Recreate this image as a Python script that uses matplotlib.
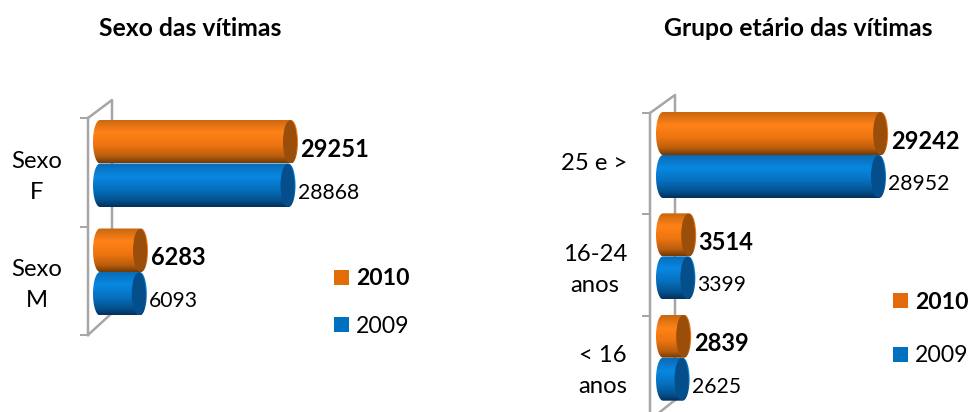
import numpy as np
import matplotlib
matplotlib.use('Agg')
import matplotlib.pyplot as plt
from matplotlib.colors import LinearSegmentedColormap
from matplotlib.lines import Line2D
from matplotlib.patches import Patch, PathPatch, Ellipse
from matplotlib.path import Path

plt.rcParams['font.family'] = ['Lato', 'DejaVu Sans']

# data
sexo_cats = ['Sexo\nF', 'Sexo\nM']
sexo_2010 = [29251, 6283]
sexo_2009 = [28868, 6093]

idade_cats = ['25 e >', '16-24\nanos', '< 16\nanos']
idade_2010 = [29242, 3514, 2839]
idade_2009 = [28952, 3399, 2625]

series_labels = ['2010', '2009']

W, H = 972, 412
GRAY = '#A6A6A6'
ORANGE = '#E36C0A'
BLUE = '#0070C0'
ORANGE_END = '#9A4E0A'
BLUE_END = '#044E8C'
orange_cmap = LinearSegmentedColormap.from_list('o', [(0, '#C9670F'), (0.3, '#FF8218'), (0.6, '#EE7410'), (0.85, '#B85C0C'), (1, '#6E3A08')])
blue_cmap = LinearSegmentedColormap.from_list('b', [(0, '#0A6AB4'), (0.3, '#0888E2'), (0.6, '#0670BE'), (0.85, '#04518E'), (1, '#02305A')])

fig = plt.figure(figsize=(W / 100, H / 100), dpi=100)
PX = 0.72  # one pixel in points


def px_line(xs, ys):
    fig.add_artist(Line2D([x / W for x in xs], [1 - y / H for y in ys], color=GRAY, lw=2.5 * PX,
                          transform=fig.transFigure, zorder=0))


def cylinder(ax, value, y_top, h, rx, cmap, end_color, rim):
    # body of the bar with rounded ends, filled with a vertical gradient
    t = np.linspace(0, np.pi, 40)
    yc = y_top + h / 2
    right = np.column_stack([value + rx * np.sin(t), yc - h / 2 * np.cos(t)])
    left = np.column_stack([-rx * np.sin(t), yc + h / 2 * np.cos(t)])
    pts = np.vstack([right, left, right[:1]])
    clip = PathPatch(Path(pts, closed=True), transform=ax.transData, fc='none', ec='none')
    grad = np.linspace(0, 1, 128).reshape(-1, 1)
    im = ax.imshow(grad, cmap=cmap, aspect='auto', origin='upper', interpolation='bilinear',
                   extent=(-rx, value + rx, y_top + h, y_top), zorder=3)
    im.set_clip_path(clip)
    im.set_clip_box(fig.bbox)
    ax.add_patch(Ellipse((value - rim, yc), 2 * rx, h * 0.98, fc=end_color, ec='none', zorder=4, clip_on=False))


def bar_chart(box, cats, v2010, v2009, scale, bar_px, top_px, wall_px, pad_px, title, title_x, legend_xy):
    x0, y0, x1, y1 = box
    ax = fig.add_axes([x0 / W, 1 - y1 / H, (x1 - x0) / W, (y1 - y0) / H])
    cat_px = (y1 - y0) / len(cats)
    h = bar_px / cat_px
    rx = 7 / scale
    for i in range(len(cats)):
        y_top = i + top_px / cat_px
        cylinder(ax, v2010[i], y_top, h, rx, orange_cmap, ORANGE_END, 1.0 / scale)
        cylinder(ax, v2009[i], y_top + h, h, rx, blue_cmap, BLUE_END, 1.0 / scale)
        ax.annotate(str(v2010[i]), (v2010[i], y_top + h / 2), xytext=(9.5 * PX, -7.5 * PX),
                    textcoords='offset points', va='center', ha='left', fontsize=17, fontweight='bold', color='black')
        ax.annotate(str(v2009[i]), (v2009[i], y_top + 1.5 * h), xytext=(9 * PX, -7.5 * PX),
                    textcoords='offset points', va='center', ha='left', fontsize=15.2, color='black')
    ax.set_xlim(0, (x1 - x0) / scale)
    ax.set_ylim(len(cats), 0)
    ax.patch.set_alpha(0)
    for s in ['top', 'right', 'bottom']:
        ax.spines[s].set_visible(False)
    ax.spines['left'].set_position(('outward', wall_px * PX))
    ax.spines['left'].set_color(GRAY)
    ax.spines['left'].set_linewidth(2.5 * PX)
    ax.set_xticks([])
    ax.set_yticks(range(len(cats) + 1))
    ax.set_yticklabels([])
    ax.tick_params(axis='y', which='major', length=8 * PX, width=2 * PX, color=GRAY)
    ax.set_yticks(np.arange(len(cats)) + 0.5 - 2.5 / cat_px, minor=True)
    ax.set_yticklabels(cats, minor=True, fontsize=17.2, linespacing=1.6, color='black')
    ax.tick_params(axis='y', which='minor', length=0, pad=pad_px * PX)
    for lab in ax.get_yticklabels(minor=True):
        lab.set_multialignment('center')
    fig.text(title_x / W, 1 - 28 / H, title, ha='center', va='center', fontsize=17.8, fontweight='bold', color='black')
    handles = [Patch(fc=ORANGE, ec='none'), Patch(fc=BLUE, ec='none')]
    leg = fig.legend(handles, series_labels, loc='center left',
                     bbox_to_anchor=(legend_xy[0] / W, 1 - legend_xy[1] / H), frameon=False, fontsize=16.6,
                     handlelength=0.65, handleheight=0.65, handletextpad=0.3, labelspacing=legend_xy[2],
                     borderpad=0, borderaxespad=0)
    leg.get_texts()[0].set_fontweight('bold')
    return ax


# walls behind the bars
px_line([88, 112, 112], [118, 100, 313])
px_line([88, 112], [335, 313])
px_line([650, 675, 675], [113, 95, 400])
px_line([650, 675], [420, 400])

bar_chart((100, 118, 296, 335), sexo_cats, sexo_2010, sexo_2009, 0.00653, 43.5, 2, 12, 26,
          'Sexo das vítimas', 190, (334, 302.5, 1.13))
bar_chart((663, 113, 887, 417), idade_cats, idade_2010, idade_2009, 0.00746, 43, -1, 13, 23,
          'Grupo etário das vítimas', 798, (893, 329, 1.43))

fig.savefig('out.png', dpi=100)
